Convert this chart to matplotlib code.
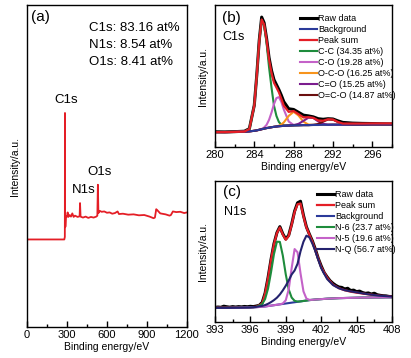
import matplotlib
matplotlib.use('Agg')
import matplotlib.pyplot as plt
from matplotlib.ticker import MultipleLocator

plt.rcParams['font.family'] = ['Liberation Sans', 'DejaVu Sans']

# ---- (a) survey spectrum ----
survey_e = [0, 100, 200, 280, 284, 285, 286, 290, 293, 300, 305, 310, 320, 330, 340,
            350, 360, 380, 395, 398, 402, 420, 440, 460, 480, 500, 520, 528, 532,
            536, 545, 560, 580, 600, 620, 640, 660, 680, 690, 720, 760, 800, 840,
            880, 920, 950, 960, 970, 980, 1000, 1040, 1070, 1080, 1095, 1120, 1150,
            1180, 1200]
survey_i = [27.2, 27.2, 27.2, 27.2, 28.0, 66.5, 31.0, 31.3, 34.5, 34.3, 35.6, 34.2,
            34.8, 34.3, 35.3, 34.2, 34.6, 34.2, 34.4, 38.5, 34.3, 34.0, 34.3, 33.9,
            34.2, 34.0, 34.3, 34.6, 44.2, 35.4, 36.1, 35.8, 35.9, 35.5, 35.6, 35.2,
            35.4, 35.9, 35.1, 35.2, 34.9, 35.0, 34.7, 34.8, 34.3, 33.8, 34.0, 36.6,
            36.2, 35.3, 35.0, 34.6, 34.8, 35.9, 35.7, 35.8, 35.4, 35.6]
atomic_text = ['C1s: 83.16 at%', 'N1s: 8.54 at%', 'O1s: 8.41 at%']

# ---- (b) C1s high resolution ----
c1s_e = [280, 281, 282, 283, 283.5, 284, 284.25, 284.5, 284.75, 285, 285.25, 285.5,
         285.75, 286, 286.25, 286.5, 286.75, 287, 287.5, 288, 288.5, 289, 289.5,
         290, 290.5, 291, 291.5, 292, 292.5, 293, 294, 295, 296, 297, 298]
c1s_raw = [10.8, 10.7, 10.9, 11.2, 13.0, 29.5, 50.5, 75.0, 91.5, 87.5, 76.5, 63.0,
           54.0, 47.5, 44.0, 40.5, 36.5, 32.0, 27.0, 26.5, 24.5, 22.5, 22.0, 21.3,
           20.0, 19.6, 20.0, 19.8, 18.5, 17.4, 16.9, 16.7, 16.6, 16.4, 16.3]
c1s_bg = [10.6, 10.6, 10.7, 10.9, 11.1, 11.5, 11.8, 12.2, 12.6, 13.0, 13.4, 13.7,
          14.0, 14.3, 14.5, 14.7, 14.85, 15.0, 15.2, 15.3, 15.4, 15.5, 15.5, 15.6,
          15.6, 15.7, 15.7, 15.8, 15.8, 15.8, 15.9, 15.9, 16.0, 16.0, 16.0]
c1s_sum = [10.6, 10.6, 10.7, 10.95, 12.8, 29.3, 50.1, 74.3, 89.8, 86.3, 75.5, 61.7,
           52.3, 45.3, 42.0, 38.6, 34.0, 29.2, 24.8, 25.4, 23.2, 20.9, 21.1, 20.6,
           18.8, 18.6, 19.6, 19.4, 17.7, 16.6, 16.6, 16.6, 16.7, 16.7, 16.7]
# component heights above background
c1s_cc = [0, 0, 0, 0.05, 1.7, 17.8, 38.3, 62.0, 77.0, 72.5, 59.8, 42.5, 28.0, 15.0,
          7.5, 3.0, 1.0, 0.3, 0, 0, 0, 0, 0, 0, 0, 0, 0, 0, 0, 0, 0, 0, 0, 0, 0]
c1s_co = [0, 0, 0, 0, 0, 0, 0, 0.05, 0.2, 0.8, 2.3, 5.5, 10.3, 16.0, 20.0, 20.5,
          17.0, 11.5, 2.8, 0.3, 0, 0, 0, 0, 0, 0, 0, 0, 0, 0, 0, 0, 0, 0, 0]
c1s_oco = [0, 0, 0, 0, 0, 0, 0, 0, 0, 0, 0, 0, 0, 0, 0, 0.4, 1.1, 2.4, 6.8, 9.6,
           6.8, 2.4, 0.4, 0, 0, 0, 0, 0, 0, 0, 0, 0, 0, 0, 0]
c1s_c_o = [0, 0, 0, 0, 0, 0, 0, 0, 0, 0, 0, 0, 0, 0, 0, 0, 0, 0, 0, 0.2, 1.0, 3.0,
           5.2, 4.9, 2.5, 0.7, 0.1, 0, 0, 0, 0, 0, 0, 0, 0]
c1s_oco2 = [0, 0, 0, 0, 0, 0, 0, 0, 0, 0, 0, 0, 0, 0, 0, 0, 0, 0, 0, 0, 0, 0, 0,
            0.1, 0.7, 2.2, 3.8, 3.6, 1.9, 0.5, 0, 0, 0, 0, 0]
c1s_labels = ['C-C (34.35 at%)', 'C-O (19.28 at%)', 'O-C-O (16.25 at%)',
              'C=O (15.25 at%)', 'O=C-O (14.87 at%)']

# ---- (c) N1s high resolution ----
n1s_e = [393, 394, 395, 396, 396.5, 397, 397.25, 397.5, 397.75, 398, 398.25, 398.5,
         398.75, 399, 399.25, 399.5, 399.75, 400, 400.25, 400.5, 400.75, 401,
         401.25, 401.5, 402, 402.5, 403, 403.5, 404, 404.5, 405, 405.5, 406, 406.5,
         407, 407.5, 408]
n1s_bg = [10.0, 10.0, 10.1, 10.3, 10.5, 10.8, 11.0, 11.3, 11.6, 11.9, 12.2, 12.5,
          12.8, 13.1, 13.4, 13.7, 14.0, 14.3, 14.6, 14.9, 15.2, 15.5, 15.7, 15.9,
          16.2, 16.5, 16.7, 16.9, 17.0, 17.1, 17.2, 17.3, 17.3, 17.4, 17.4, 17.5,
          17.5]
n1s_sum = [10.1, 10.1, 10.2, 10.4, 10.8, 13.0, 20.0, 31.0, 44.0, 55.0, 63.0, 67.0,
           62.0, 58.3, 61.0, 69.0, 78.0, 83.5, 84.0, 75.0, 67.0, 62.0, 57.0, 51.0,
           39.0, 31.5, 26.5, 24.0, 22.5, 21.5, 20.8, 20.2, 19.6, 19.1, 18.6, 18.3,
           18.0]
n1s_n6 = [0, 0, 0, 0, 0.1, 1.8, 5.3, 12.4, 23.6, 36.2, 44.7, 44.3, 34.3, 20.7, 9.7,
          3.6, 1.0, 0.2, 0, 0, 0, 0, 0, 0, 0, 0, 0, 0, 0, 0, 0, 0, 0, 0, 0, 0, 0]
n1s_n5 = [0, 0, 0, 0, 0, 0, 0, 0, 0, 0, 0, 0, 0.3, 2.3, 9.7, 24.5, 37.7, 35.1, 19.9,
          6.8, 1.4, 0.2, 0, 0, 0, 0, 0, 0, 0, 0, 0, 0, 0, 0, 0, 0, 0]
n1s_nq = [0, 0, 0, 0, 0.2, 0.6, 1.0, 1.6, 2.5, 3.6, 5.0, 7.0, 9.6, 12.6, 16.0, 20.0,
          22.5, 27.0, 35.5, 42.0, 46.0, 44.5, 40.0, 34.5, 22.0, 14.0, 9.5, 7.0, 5.5,
          4.6, 3.8, 3.0, 2.3, 1.7, 1.2, 0.8, 0.5]
n1s_raw_e = [393 + 0.25 * k for k in range(61)]
n1s_raw = [10.3, 10.6, 10.4, 11.2, 10.8, 10.5, 10.9, 10.6, 10.9, 10.7, 11.0, 10.8,
           11.1, 10.9, 11.3, 11.8, 13.8, 20.5, 31.5, 44.3, 55.5, 63.3, 67.6, 62.5,
           58.8, 61.5, 69.4, 78.6, 84.5, 85.6, 75.6, 67.4, 62.3, 57.6, 51.8, 45.2,
           39.8, 35.1, 32.0, 29.3, 27.4, 25.9, 24.8, 24.5, 23.4, 23.9, 22.3, 22.6,
           21.5, 21.9, 20.9, 20.3, 20.6, 19.8, 20.4, 19.3, 18.9, 18.6, 18.5, 18.1,
           18.0]
n1s_labels = ['N-6 (23.7 at%)', 'N-5 (19.6 at%)', 'N-Q (56.7 at%)']

RED = '#e41e26'
BLUE = '#2b3a9a'
GREEN = '#1e8c3c'
MAGENTA = '#c462c8'
ORANGE = '#f7941d'
PURPLE = '#7b1d8e'
DARKRED = '#6b0f0f'
NAVY = '#24226e'


def style_axis(ax, major, minor):
    ax.set_yticks([])
    ax.xaxis.set_major_locator(MultipleLocator(major))
    ax.xaxis.set_minor_locator(MultipleLocator(minor))
    ax.tick_params(axis='x', which='major', direction='in', length=4.5, width=1,
                   labelsize=8, pad=2)
    ax.tick_params(axis='x', which='minor', direction='in', length=2.5, width=1)
    for s in ax.spines.values():
        s.set_linewidth(1.0)
    ax.set_xlabel('Binding energy/eV', fontsize=7.5, labelpad=1.5)
    ax.set_ylabel('Intensity/a.u.', fontsize=7.5, labelpad=5)


fig = plt.figure(figsize=(4.11, 3.58), dpi=100)
ax_a = fig.add_axes([0.0657, 0.0866, 0.389, 0.899])
ax_b = fig.add_axes([0.523, 0.589, 0.4307, 0.397])
ax_c = fig.add_axes([0.523, 0.1006, 0.4307, 0.394])

# (a)
ax_a.plot(survey_e, survey_i, color=RED, lw=1.3)
ax_a.set_xlim(0, 1200)
ax_a.set_ylim(0, 100)
style_axis(ax_a, 300, 150)
ax_a.text(0.084, 0.964, '(a)', transform=ax_a.transAxes, fontsize=11,
          ha='center', va='center')
for k, t in enumerate(atomic_text):
    ax_a.text(0.3875, 0.929 - 0.053 * k, t, transform=ax_a.transAxes,
              fontsize=9.5, ha='left', va='center')
ax_a.text(296, 70.5, 'C1s', fontsize=9.5, ha='center', va='center')
ax_a.text(424, 42.5, 'N1s', fontsize=9.5, ha='center', va='center')
ax_a.text(548, 48.1, 'O1s', fontsize=9.5, ha='center', va='center')

legend_kw = dict(loc='upper left', frameon=False, fontsize=6.5, handlelength=1.9,
                 handletextpad=0.15, labelspacing=0.22, borderpad=0,
                 borderaxespad=0)

# (b)
comp_b = [c1s_cc, c1s_co, c1s_oco, c1s_c_o, c1s_oco2]
col_b = [GREEN, MAGENTA, ORANGE, PURPLE, DARKRED]
h_raw, = ax_b.plot(c1s_e, c1s_raw, color='black', lw=2.2)
comp_handles = []
for comp, col in zip(comp_b, col_b):
    h, = ax_b.plot(c1s_e, [b + c for b, c in zip(c1s_bg, comp)], color=col, lw=1.5)
    comp_handles.append(h)
h_bg, = ax_b.plot(c1s_e, c1s_bg, color=BLUE, lw=1.5)
h_sum, = ax_b.plot(c1s_e, c1s_sum, color=RED, lw=1.6)
ax_b.set_xlim(280, 298)
ax_b.set_ylim(0, 100)
style_axis(ax_b, 4, 2)
ax_b.text(0.094, 0.912, '(b)', transform=ax_b.transAxes, fontsize=11,
          ha='center', va='center')
ax_b.text(0.107, 0.777, 'C1s', transform=ax_b.transAxes, fontsize=9,
          ha='center', va='center')
ax_b.legend([h_raw, h_bg, h_sum] + comp_handles,
            ['Raw data', 'Background', 'Peak sum'] + c1s_labels,
            bbox_to_anchor=(0.48, 0.935), **legend_kw)

# (c)
h_raw_c, = ax_c.plot(n1s_raw_e, n1s_raw, color='black', lw=2.2)
h_sum_c, = ax_c.plot(n1s_e, n1s_sum, color=RED, lw=1.6)
h_bg_c, = ax_c.plot(n1s_e, n1s_bg, color=BLUE, lw=1.5)
comp_c = [n1s_n6, n1s_n5, n1s_nq]
col_c = [GREEN, MAGENTA, NAVY]
comp_handles_c = []
for comp, col in zip(comp_c, col_c):
    h, = ax_c.plot(n1s_e, [b + c for b, c in zip(n1s_bg, comp)], color=col, lw=1.5)
    comp_handles_c.append(h)
ax_c.set_xlim(393, 408)
ax_c.set_ylim(0, 100)
style_axis(ax_c, 3, 1.5)
ax_c.text(0.094, 0.924, '(c)', transform=ax_c.transAxes, fontsize=11,
          ha='center', va='center')
ax_c.text(0.113, 0.782, 'N1s', transform=ax_c.transAxes, fontsize=9,
          ha='center', va='center')
ax_c.legend([h_raw_c, h_sum_c, h_bg_c] + comp_handles_c,
            ['Raw data', 'Peak sum', 'Background'] + n1s_labels,
            bbox_to_anchor=(0.575, 0.935), **legend_kw)

fig.savefig('out.png', dpi=100)
